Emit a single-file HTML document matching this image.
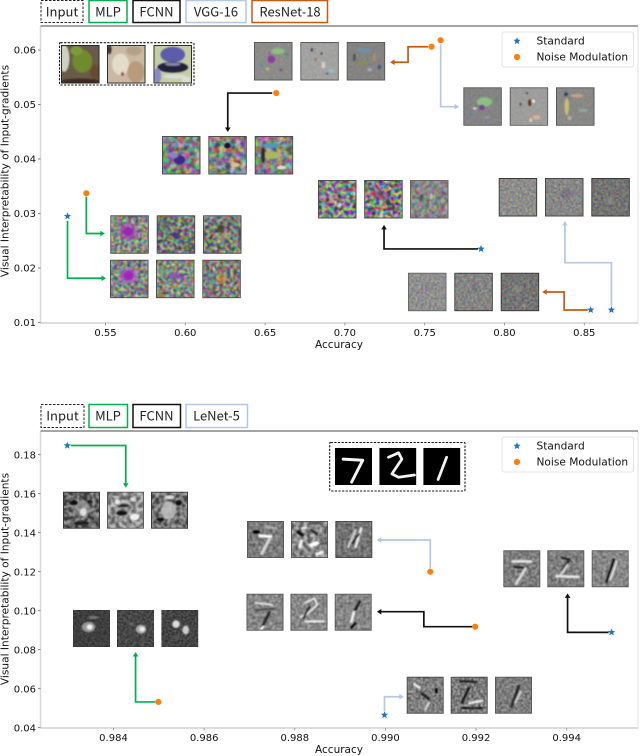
<!DOCTYPE html>
<html lang="en">
<head>
<meta charset="utf-8">
<title>Visual interpretability vs accuracy</title>
<style>
html,body{margin:0;padding:0;background:#fff;width:640px;height:756px;overflow:hidden}
svg{display:block}
#fig{filter:blur(0.3px)}
text{font-family:"DejaVu Sans","Liberation Sans",sans-serif;fill:#111}
.hd{font-family:"Noto Sans CJK SC","Liberation Sans",sans-serif;font-size:13px;font-weight:400;text-anchor:middle;fill:#222}
.lg{font-size:10.6px}
</style>
</head>
<body>
<svg id="fig" xmlns="http://www.w3.org/2000/svg" width="640" height="756" viewBox="0 0 640 756">
<defs id="defs"><filter id="soft" x="-30%" y="-30%" width="160%" height="160%"><feGaussianBlur stdDeviation="2.4"/></filter></defs>
<g id="header-top">
<rect x="41" y="0.5" width="42" height="22" fill="none" stroke="#222" stroke-width="1" stroke-dasharray="2.5 1.5"/>
<text class="hd" x="62" y="16.5">Input</text>
<rect x="89" y="0.5" width="38" height="22" fill="none" stroke="#00b050" stroke-width="1.5"/>
<text class="hd" x="108" y="16.5">MLP</text>
<rect x="133" y="0.5" width="47" height="22" fill="none" stroke="#111" stroke-width="1.5"/>
<text class="hd" x="156.500" y="16.5">FCNN</text>
<rect x="186" y="0.5" width="60" height="22" fill="none" stroke="#b4c7e7" stroke-width="1.5"/>
<text class="hd" x="216" y="16.5">VGG-16</text>
<rect x="252" y="0.5" width="75.500" height="22" fill="none" stroke="#c55a11" stroke-width="1.5"/>
<text class="hd" x="290" y="16.5">ResNet-18</text>
</g>
<g id="header-bottom">
<rect x="41" y="404.500" width="43" height="23" fill="none" stroke="#222" stroke-width="1" stroke-dasharray="2.5 1.5"/>
<text class="hd" x="62.500" y="420.500">Input</text>
<rect x="89" y="404.500" width="38.500" height="23" fill="none" stroke="#00b050" stroke-width="1.500"/>
<text class="hd" x="108" y="420.500">MLP</text>
<rect x="133" y="404.500" width="47.500" height="23" fill="none" stroke="#111" stroke-width="1.500"/>
<text class="hd" x="156.500" y="420.500">FCNN</text>
<rect x="186" y="404.500" width="61.500" height="23" fill="none" stroke="#b4c7e7" stroke-width="1.500"/>
<text class="hd" x="216.500" y="420.500">LeNet-5</text>
</g>
</svg>
<script>
// ---- chart values ----
const topXTicks = [0.55, 0.60, 0.65, 0.70, 0.75, 0.80, 0.85];
const topYTicks = [0.01, 0.02, 0.03, 0.04, 0.05, 0.06];
const topModels = ['MLP', 'FCNN', 'ResNet-18', 'VGG-16'];
const topStandardAccuracy = [0.5262, 0.7853, 0.8540, 0.8670];
const topStandardInterp = [0.0295, 0.0235, 0.0123, 0.0123];
const topNoiseAccuracy = [0.5380, 0.6570, 0.7543, 0.7600];
const topNoiseInterp = [0.0337, 0.0521, 0.0606, 0.0618];

const bottomXTicks = [0.984, 0.986, 0.988, 0.990, 0.992, 0.994];
const bottomYTicks = [0.04, 0.06, 0.08, 0.10, 0.12, 0.14, 0.16, 0.18];
const bottomModels = ['MLP', 'LeNet-5', 'FCNN'];
const bottomStandardAccuracy = [0.98298, 0.98998, 0.99499];
const bottomStandardInterp = [0.1847, 0.0465, 0.0889];
const bottomNoiseAccuracy = [0.98499, 0.99099, 0.99198];
const bottomNoiseInterp = [0.0532, 0.1200, 0.0918];

const NS = 'http://www.w3.org/2000/svg';
const fig = document.getElementById('fig');
const defs = document.getElementById('defs');
const BLUE = '#1f77b4', ORANGE = '#ff7f0e', GREEN = '#00b050', BLACK = '#111', LIGHT = '#b4c7e7', RUST = '#c55a11';

function mk(tag, attrs, parent) {
  const el = document.createElementNS(NS, tag);
  for (const k in attrs) el.setAttribute(k, attrs[k]);
  (parent || fig).appendChild(el);
  return el;
}

function starPoints(cx, cy, r) {
  const pts = [];
  for (let i = 0; i < 10; i++) {
    const a = -Math.PI / 2 + i * Math.PI / 5, q = i % 2 ? r * 0.45 : r;
    pts.push((cx + q * Math.cos(a)).toFixed(2) + ',' + (cy + q * Math.sin(a)).toFixed(2));
  }
  return pts.join(' ');
}

function drawAxes(c) {
  const g = mk('g', {});
  
  
  const spines = [
    [c.l, c.t, c.l, c.b, '#d8d8d8', 1.5], [c.l, c.b, c.r, c.b, '#d0d0d0', 1.5],
    [c.r, c.t, c.r, c.b, '#e6e6e6', 1.2], [c.l, c.t, c.r, c.t, '#6e6e6e', 1.2]
  ];
  spines.forEach(function (s) {
    const ln = mk('line', {x1: s[0], y1: s[1], x2: s[2], y2: s[3], stroke: s[4], 'stroke-width': s[5]}, g);
    
    
  });
  c.xTicks.forEach(function (v) {
    const x = c.sx(v);
    const tk = mk('line', {x1: x, y1: c.b, x2: x, y2: c.b + 2.5, stroke: '#888', 'stroke-width': 0.8}, g);
    
    
    const tx = mk('text', {x: x, y: c.b + 13, 'font-size': 10, 'text-anchor': 'middle'}, g);
    
    
    tx.textContent = v.toFixed(c.xDigits);
  });
  c.yTicks.forEach(function (v) {
    const y = c.sy(v);
    const tk = mk('line', {x1: c.l - 2.5, y1: y, x2: c.l, y2: y, stroke: '#666', 'stroke-width': 0.8}, g);
    
    
    const tx = mk('text', {x: 36, y: y + 3.6, 'font-size': 10, 'text-anchor': 'end'}, g);
    
    
    tx.textContent = v.toFixed(2);
  });
  const xt = mk('text', {x: 339, y: c.b + 25, 'font-size': 10.5, 'text-anchor': 'middle'}, g);
  
  
  xt.textContent = 'Accuracy';
  const yc = c.yTitleCenter;
  const yt = mk('text', {x: 0, y: 0, 'font-size': 10.6, 'text-anchor': 'middle', transform: 'translate(8.5,' + yc + ') rotate(-90)'}, g);
  
  
  yt.textContent = 'Visual Interpretability of Input-gradients';
}

function drawLegend(ty) {
  const g = mk('g', {});
  
  
  const box = mk('rect', {x: 502, y: ty, width: 131.5, height: 35, rx: 2, fill: '#fff', stroke: '#e4e4e4', 'stroke-width': 1}, g);
  
  
  const st = mk('polygon', {points: starPoints(517, ty + 9, 3.8), fill: BLUE}, g);
  
  
  const t1 = mk('text', {x: 536.5, y: ty + 12.5, class: 'lg'}, g);
  
  
  t1.textContent = 'Standard';
  const ci = mk('circle', {cx: 517, cy: ty + 25, r: 3.1, fill: ORANGE}, g);
  
  
  const t2 = mk('text', {x: 536.5, y: ty + 28.5, class: 'lg'}, g);
  
  
  t2.textContent = 'Noise Modulation';
}

// An arrow leaves its marker and bends by the given pixel offsets.
function drawArrow(px, py, route, color) {
  let x = px + route[0][0], y = py + route[0][1];
  const pts = [[x, y]];
  for (let i = 1; i < route.length; i++) {
    x += route[i][0];
    y += route[i][1];
    pts.push([x, y]);
  }
  const last = pts[pts.length - 1], prev = pts[pts.length - 2];
  const dx = Math.sign(last[0] - prev[0]), dy = Math.sign(last[1] - prev[1]);
  const body = pts.slice(0, -1).concat([[last[0] - dx * 3, last[1] - dy * 3]]);
  const pl = mk('polyline', {points: body.map(function (p) { return p.join(','); }).join(' '), fill: 'none', stroke: color, 'stroke-width': 1.7});
  
  
  const h = 4.5, w = 2.8;
  const head = mk('polygon', {fill: color, points: [
    last.join(','),
    (last[0] - dx * h - dy * w) + ',' + (last[1] - dy * h - dx * w),
    (last[0] - dx * h + dy * w) + ',' + (last[1] - dy * h + dx * w)
  ].join(' ')});
  
  
}

function drawSeries(c, stdX, stdY, noiseX, noiseY, models) {
  stdX.forEach(function (v, i) {
    const s = mk('polygon', {points: starPoints(c.sx(v), c.sy(stdY[i]), 3.8), fill: BLUE});
    
    
  });
  noiseX.forEach(function (v, i) {
    const o = mk('circle', {cx: c.sx(v), cy: c.sy(noiseY[i]), r: 3.1, fill: ORANGE});
    
    
  });
}

// ---- thumbnail drawing ----
let seedCounter = 3;
function noiseFilter(freq, k, gray) {
  const id = 'n' + (seedCounter++);
  const f = mk('filter', {id: id, x: 0, y: 0, width: '100%', height: '100%', 'color-interpolation-filters': 'sRGB'}, defs);
  mk('feTurbulence', {type: 'fractalNoise', baseFrequency: freq, numOctaves: 2, seed: seedCounter}, f);
  const o = (0.5 - 0.5 * k).toFixed(3);
  const row = gray
    ? k + ' 0 0 0 ' + o + ' ' + k + ' 0 0 0 ' + o + ' ' + k + ' 0 0 0 ' + o + ' 0 0 0 0 1'
    : k + ' 0 0 0 ' + o + ' 0 ' + k + ' 0 0 ' + o + ' 0 0 ' + k + ' 0 ' + o + ' 0 0 0 0 1';
  mk('feColorMatrix', {type: 'matrix', values: row}, f);
  mk('feGaussianBlur', {stdDeviation: 1.1}, f);
  return id;
}

function drawThumb(x, y, size, sp, name) {
  const t = mk('svg', {x: x, y: y, width: size, height: size, viewBox: '0 0 100 100'});
  
  
  mk('rect', {width: 100, height: 100, fill: sp.bg}, t);
  if (sp.n) {
    const id = noiseFilter(sp.n[0], sp.n[1], sp.gray);
    mk('rect', {width: 100, height: 100, fill: '#fff', filter: 'url(#' + id + ')', opacity: sp.n[2]}, t);
  }
  if (sp.b) {
    const gb = mk('g', {filter: sp.sharp ? '' : 'url(#soft)'}, t);
    sp.b.forEach(function (e) {
      mk('ellipse', {cx: e[0], cy: e[1], rx: e[2], ry: e[3], fill: e[4], opacity: e[5] === undefined ? 1 : e[5]}, gb);
    });
  }
  if (sp.s) {
    const gs = mk('g', {filter: sp.crisp ? '' : 'url(#soft)'}, t);
    sp.s.forEach(function (e) {
      mk('polyline', {points: e[0], fill: 'none', stroke: e[1], 'stroke-width': e[2], 'stroke-linecap': 'round', 'stroke-linejoin': 'round'}, gs);
    });
  }
  if (sp.edge !== 'none') {
    mk('rect', {x: 1.2, y: 1.2, width: 97.6, height: 97.6, fill: 'none', stroke: sp.edge || '#4c4c4c', 'stroke-width': 2.4}, t);
  }
}

function dashedBox(x, y, w, h, name) {
  const r = mk('rect', {x: x, y: y, width: w, height: h, rx: 1, fill: 'none', stroke: '#111', 'stroke-width': 1.1, 'stroke-dasharray': '2.2 1.4'});
  
  
}

// ---- top chart ----
const topChart = {
  name: 'cifar-chart', l: 40.5, r: 638, t: 26, b: 323, xDigits: 2, yTitleCenter: 171,
  xTicks: topXTicks, yTicks: topYTicks,
  sx: function (v) { return 105.5 + (v - 0.55) * 1596; },
  sy: function (v) { return 322.5 - (v - 0.01) * 5450; }
};
const bottomChart = {
  name: 'mnist-chart', l: 40.5, r: 638, t: 431, b: 728, xDigits: 3, yTitleCenter: 579,
  xTicks: bottomXTicks, yTicks: bottomYTicks,
  sx: function (v) { return 113.5 + (v - 0.984) * 45320; },
  sy: function (v) { return 727.7 - (v - 0.04) * 1950; }
};
drawAxes(topChart);
drawAxes(bottomChart);
drawLegend(32);
drawLegend(437);

const d7 = '22,30 75,33 45,92', d2 = '25,25 52,13 61,30 34,70 52,79 95,73', d1 = '63,25 40,85';

const mlpN = [0.11, 2.4, 0.55], fcnN = [0.07, 2.6, 0.5], fcnS = [0.1, 2.8, 0.7], resN = [0.16, 1.4, 0.12], fineN = [0.2, 2, 0.38], grayN = [0.09, 2.6, 0.4], grayFine = [0.13, 1.8, 0.3];

const thumbRows = [
  {name: 'input-cifar', x: [61, 107, 153.5], y: 45, size: 38.5, imgs: [
    {bg: '#6a5a4a', b: [[8, 35, 14, 35, '#cfd0c0'], [55, 42, 26, 30, '#6f8a2e'], [40, 15, 16, 12, '#7d9a3a'], [50, 94, 50, 7, '#3b2a20'], [88, 70, 12, 20, '#6b4a30']], edge: '#222'},
    {bg: '#c9b9a2', b: [[35, 50, 22, 28, '#e2dcc8'], [75, 70, 22, 28, '#b89a7c'], [70, 15, 20, 12, '#b5a088'], [6, 12, 6, 12, '#433'], [40, 75, 4, 5, '#9a4a40']], edge: '#222'},
    {bg: '#c5cea2', b: [[50, 25, 32, 20, '#5c5caa'], [50, 58, 40, 14, '#23233c'], [10, 80, 10, 20, '#8a8ac8'], [55, 82, 30, 5, '#dcdcdc'], [50, 50, 20, 4, '#8888aa'], [85, 90, 12, 8, '#ddd']], edge: '#222'}
  ]},
  {name: 'fcnn-noise', x: [162, 208.3, 254.7], y: 136, size: 38.5, imgs: [
    {bg: '#8a8886', n: fcnN, b: [[45, 62, 15, 13, '#3d2a88'], [30, 50, 12, 8, '#8a84c0'], [75, 35, 9, 6, '#4ea880'], [70, 15, 10, 5, '#6a6a6a']]},
    {bg: '#888', n: fcnN, b: [[50, 25, 8, 8, '#1a1020'], [55, 38, 10, 4, '#c8524a'], [70, 75, 12, 6, '#e0c090'], [30, 70, 7, 7, '#7a5a90']]},
    {bg: '#8c8c84', n: fcnN, b: [[40, 25, 20, 7, '#4f9ab8'], [45, 50, 22, 10, '#a8b860'], [22, 50, 5, 20, '#2a2a30'], [70, 82, 12, 5, '#ddd']]}
  ]},
  {name: 'resnet-noise', x: [254, 300.3, 346.7], y: 42, size: 38.5, imgs: [
    {bg: '#8e8e8c', n: resN, b: [[62, 24, 17, 8, '#8cc080'], [45, 45, 10, 10, '#8a3f9a'], [85, 32, 5, 3, '#3a9a80'], [35, 70, 5, 3, '#c8c060'], [20, 62, 4, 3, '#5a8aa8'], [70, 72, 4, 3, '#7a4a88'], [40, 30, 3, 5, '#a05aa0']], edge: '#555'},
    {bg: '#a8a8a6', n: resN, b: [[30, 20, 3, 5, '#444'], [60, 60, 5, 9, '#d8cfc0'], [80, 75, 8, 5, '#90c0c0'], [40, 45, 3, 4, '#a0705a'], [70, 82, 4, 3, '#66a'], [25, 35, 3, 3, '#8aa'], [55, 30, 3, 3, '#444']], edge: '#555'},
    {bg: '#848482', n: resN, b: [[45, 22, 18, 6, '#7090a8'], [40, 55, 16, 5, '#8a8a50'], [72, 40, 4, 12, '#b08a70'], [85, 65, 4, 6, '#40508a'], [20, 40, 4, 10, '#555'], [60, 72, 6, 4, '#aab']], edge: '#555'}
  ]},
  {name: 'vgg-noise', x: [463.3, 509.7, 556], y: 87.3, size: 38.5, imgs: [
    {bg: '#858583', n: resN, b: [[55, 38, 20, 12, '#8cc080'], [48, 52, 8, 7, '#7c3f98'], [85, 32, 5, 3, '#3a9a80'], [30, 55, 5, 3, '#e8d8c8'], [62, 78, 8, 3, '#9a90b8'], [18, 70, 4, 4, '#58a']], edge: '#555'},
    {bg: '#a2a2a0', n: resN, b: [[52, 40, 4, 9, '#6a2a10'], [62, 36, 4, 4, '#f0f0f0'], [70, 78, 10, 6, '#d8b090'], [28, 44, 3, 4, '#555'], [45, 15, 3, 3, '#555'], [55, 85, 4, 5, '#e8c8b0']], edge: '#555'},
    {bg: '#8a8a88', n: resN, b: [[28, 50, 6, 22, '#c8c070'], [55, 22, 16, 5, '#c8a080'], [70, 60, 12, 4, '#90a8a0'], [26, 18, 5, 5, '#30405a'], [35, 80, 5, 5, '#c8a8a0']], edge: '#555'}
  ]},
  {name: 'mlp-noise', x: [110.3, 156.7, 203], y: 215.3, size: 38.5, imgs: [
    {bg: '#8d9c84', n: mlpN, b: [[47, 42, 26, 24, '#b040c0', 0.5], [46, 42, 13, 12, '#9a20b8', 0.95]]},
    {bg: '#6c7868', n: mlpN, b: [[50, 52, 11, 8, '#41307a', 0.8], [20, 20, 14, 14, '#445', 0.35], [82, 78, 14, 14, '#453', 0.3]]},
    {bg: '#6e7a6e', n: mlpN, b: [[45, 35, 10, 10, '#4a3a10', 0.8], [50, 55, 26, 7, '#a8a868', 0.55]]}
  ]},
  {name: 'mlp-standard', x: [110, 156, 202.3], y: 259.7, size: 38.5, imgs: [
    {bg: '#84948a', n: mlpN, b: [[48, 42, 24, 22, '#b850c8', 0.55], [48, 42, 14, 12, '#a020c0', 0.95]]},
    {bg: '#8a9c7e', n: mlpN, b: [[50, 42, 20, 9, '#8a40b8', 0.7], [22, 32, 14, 10, '#6ab080', 0.5], [10, 94, 18, 5, '#a87020', 0.6]]},
    {bg: '#827e74', n: mlpN, b: [[50, 50, 13, 13, '#d09020', 0.55], [52, 22, 14, 8, '#a06a4a', 0.4], [20, 50, 14, 22, '#5a8898', 0.4]]}
  ]},
  {name: 'fcnn-standard', x: [318, 364.2, 410], y: 180, size: 38.5, imgs: [
    {bg: '#8c8c88', n: fcnS, b: [[35, 50, 7, 12, '#c07ab0', 0.6], [70, 40, 9, 6, '#4aa0a0', 0.6]]},
    {bg: '#7e7c7a', n: fcnS, b: [[45, 40, 20, 14, '#8a3a80', 0.5], [50, 70, 12, 4, '#e0b050', 0.7], [62, 58, 7, 7, '#1a1a30', 0.7]]},
    {bg: '#8c8c8a', n: [0.1, 2.2, 0.4], b: [[30, 45, 5, 9, '#222', 0.5], [55, 42, 4, 9, '#d8d8c0', 0.7], [70, 55, 5, 10, '#4a6a8a', 0.5], [25, 60, 5, 4, '#6aa', 0.5]], edge: '#666'}
  ]},
  {name: 'vgg-standard', x: [498.7, 545, 591.3], y: 178, size: 38.5, imgs: [
    {bg: '#969694', n: fineN, edge: '#333'},
    {bg: '#8c8c8a', n: fineN, b: [[55, 42, 14, 12, '#6a5a78', 0.4]], edge: '#444'},
    {bg: '#6c6c6a', n: fineN, b: [[48, 60, 7, 9, '#bbb', 0.3]], edge: '#333'}
  ]},
  {name: 'resnet-standard', x: [408, 454.3, 500.7], y: 272.7, size: 38.5, imgs: [
    {bg: '#9a9a98', n: fineN, b: [[50, 40, 8, 10, '#7a6a8a', 0.35]], edge: '#666'},
    {bg: '#8a8a88', n: fineN, b: [[52, 38, 7, 12, '#5a5a70', 0.4]], edge: '#333'},
    {bg: '#6e6e6c', n: fineN, b: [[42, 42, 12, 10, '#9a9a80', 0.45], [60, 85, 5, 4, '#bbb', 0.5]], edge: '#333'}
  ]},
  {name: 'input-mnist', x: [335, 379.3, 423.3], y: 448, size: 37, imgs: [
    {bg: '#000', s: [[d7, '#f4f4f4', 8]], crisp: true, edge: 'none'},
    {bg: '#000', s: [[d2, '#f4f4f4', 7.5]], crisp: true, edge: 'none'},
    {bg: '#000', s: [[d1, '#f4f4f4', 7.5]], crisp: true, edge: 'none'}
  ]},
  {name: 'mlp-standard-mnist', x: [63, 107, 151], y: 491.7, size: 37, imgs: [
    {bg: '#565656', gray: true, n: grayN, b: [[50, 45, 24, 22, '#a0a0a0', 0.6], [30, 30, 11, 7, '#111'], [55, 55, 9, 11, '#e0e0e0'], [50, 85, 22, 5, '#1a1a1a'], [72, 28, 8, 5, '#1a1a1a']], edge: '#333'},
    {bg: '#9c9c9c', gray: true, n: grayN, b: [[40, 58, 15, 6, '#0a0a0a'], [45, 38, 13, 4, '#222'], [75, 68, 13, 9, '#f0f0f0'], [28, 28, 7, 7, '#e8e8e8'], [70, 20, 8, 5, '#ddd']], edge: '#555'},
    {bg: '#686868', gray: true, n: grayN, b: [[48, 50, 20, 24, '#c8c8c8', 0.8], [75, 30, 9, 7, '#111'], [25, 75, 11, 5, '#111'], [50, 15, 13, 5, '#ddd']], edge: '#333'}
  ]},
  {name: 'lenet-noise-mnist', x: [247, 291, 335.3], y: 521, size: 37, imgs: [
    {bg: '#7a7a7a', gray: true, n: grayFine, s: [['20,30 30,30', '#000', 9], ['35,40 65,42', '#fff', 8], ['60,50 40,88', '#d8d8d8', 8], ['50,15 80,20', '#b0b0b0', 6]], edge: '#555'},
    {bg: '#8c8c8c', gray: true, n: grayN, s: [['20,30 30,38', '#111', 9], ['28,55 24,70', '#f4f4f4', 9], ['55,65 70,60', '#fff', 11], ['70,90 85,85', '#f4f4f4', 8], ['55,25 70,35', '#222', 6], ['30,20 40,18', '#e8e8e8', 7]], edge: '#555'},
    {bg: '#6e6e6e', gray: true, n: grayFine, s: [['55,25 35,70', '#ccc', 7], ['70,20 55,70', '#f0f0f0', 7], ['65,35 45,60', '#111', 5]], edge: '#444'}
  ]},
  {name: 'fcnn-noise-mnist', x: [246.5, 290.5, 334.7], y: 593.7, size: 37, imgs: [
    {bg: '#8a8a8a', gray: true, n: grayFine, s: [['25,25 70,30', '#e4e4e4', 5], ['25,45 75,40', '#4a4a4a', 5], ['62,50 45,85', '#222', 7], ['45,90 40,96', '#fff', 6]], edge: '#555'},
    {bg: '#8c8c8c', gray: true, n: grayFine, s: [['40,25 65,12 72,30 45,55 28,62', '#e8e8e8', 5], ['52,35 35,65', '#111', 5], ['40,75 90,75', '#eee', 6]], edge: '#555'},
    {bg: '#8a8a8a', gray: true, n: grayFine, s: [['68,20 55,45', '#111', 6], ['52,50 45,75', '#f4f4f4', 7], ['55,80 45,92', '#000', 6]], edge: '#555'}
  ]},
  {name: 'mlp-noise-mnist', x: [73, 117, 161.3], y: 610, size: 37, imgs: [
    {bg: '#2c2c2c', gray: true, n: [0.22, 2, 0.22], b: [[42, 46, 18, 14, '#999'], [45, 46, 8, 7, '#f0f0f0'], [55, 20, 14, 4, '#777']], edge: 'none'},
    {bg: '#2e2e2e', gray: true, n: [0.22, 2, 0.3], b: [[65, 52, 14, 12, '#aaa'], [68, 52, 7, 6, '#f0f0f0'], [40, 38, 6, 5, '#666']], edge: 'none'},
    {bg: '#2a2a2a', gray: true, n: [0.22, 2, 0.3], b: [[40, 38, 10, 10, '#ddd'], [66, 54, 9, 12, '#ccc'], [40, 75, 10, 5, '#555']], edge: 'none'}
  ]},
  {name: 'fcnn-standard-mnist', x: [503.3, 547.3, 591.7], y: 550.3, size: 37, imgs: [
    {bg: '#7c7c7c', gray: true, n: grayFine, s: [['25,30 75,30', '#e8e8e8', 7], ['30,45 65,48', '#222', 6], ['60,50 35,90', '#d8d8d8', 8]], edge: '#555'},
    {bg: '#7e7e7e', gray: true, n: grayFine, s: [['40,20 60,25 40,55', '#222', 6], ['25,70 85,72', '#e8e8e8', 7], ['55,40 35,68', '#d8d8d8', 6]], edge: '#555'},
    {bg: '#8c8c8c', gray: true, n: grayFine, s: [['60,25 40,85', '#111', 6], ['68,30 50,80', '#e8e8e8', 5]], edge: '#555'}
  ]},
  {name: 'lenet-standard-mnist', x: [406.7, 450.7, 495], y: 676.7, size: 37, imgs: [
    {bg: '#7f7f7f', gray: true, n: [0.16, 2, 0.4], s: [['20,20 35,30', '#f4f4f4', 6], ['40,45 60,60', '#111', 6], ['80,35 80,42', '#000', 7], ['60,70 50,90', '#d8d8d8', 6]], edge: '#444'},
    {bg: '#7a7a7a', gray: true, n: [0.16, 2, 0.4], s: [['25,12 70,14', '#111', 5], ['50,30 30,70', '#111', 6], ['50,72 85,65', '#f4f4f4', 6], ['30,85 85,85', '#000', 4]], edge: '#444'},
    {bg: '#7c7c7c', gray: true, n: [0.16, 2, 0.32], s: [['65,25 45,80', '#222', 7], ['70,40 55,70', '#d8d8d8', 5]], edge: '#555'}
  ]}
];

thumbRows.forEach(function (row) {
  row.x.forEach(function (x, i) {
    drawThumb(x, row.y, row.size, row.imgs[i], row.name + '-thumbnail-' + (i + 1));
  });
});
dashedBox(59.5, 42.7, 134.5, 42.3, 'input-images-frame');
dashedBox(329.7, 442.5, 135.3, 48.5, 'input-digits-frame');

// Connector routes: first pair is the offset from the marker, the rest are segment steps.
const sx = topChart.sx, sy = topChart.sy, bx = bottomChart.sx, by = bottomChart.sy;
drawArrow(sx(topStandardAccuracy[0]), sy(topStandardInterp[0]), [[0, 4.5], [0, 57.5], [38.5, 0]], GREEN);
drawArrow(sx(topNoiseAccuracy[0]), sy(topNoiseInterp[0]), [[0, 3.5], [0, 36.7], [18.5, 0]], GREEN);
drawArrow(sx(topNoiseAccuracy[1]), sy(topNoiseInterp[1]), [[-4, 0], [-44.5, 0], [0, 39]], BLACK);
drawArrow(sx(topNoiseAccuracy[2]), sy(topNoiseInterp[2]), [[-3.5, 0], [-20, 0], [0, 15.5], [-18, 0]], RUST);
drawArrow(sx(topNoiseAccuracy[3]), sy(topNoiseInterp[3]), [[0, 4], [0, 62.5], [18.5, 0]], LIGHT);
drawArrow(sx(topStandardAccuracy[1]), sy(topStandardInterp[1]), [[-3, 0], [-94, 0], [0, -24]], BLACK);
drawArrow(sx(topStandardAccuracy[2]), sy(topStandardInterp[2]), [[-3, 0], [-23.5, 0], [0, -18], [-22, 0]], RUST);
drawArrow(sx(topStandardAccuracy[3]), sy(topStandardInterp[3]), [[0, -3.5], [0, -43.8], [-46.5, 0], [0, -41.7]], LIGHT);

drawArrow(bx(bottomStandardAccuracy[0]), by(bottomStandardInterp[0]), [[3.5, 0], [55, 0], [0, 42.2]], GREEN);
drawArrow(bx(bottomNoiseAccuracy[0]), by(bottomNoiseInterp[0]), [[-3, 0], [-19.8, 0], [0, -50]], GREEN);
drawArrow(bx(bottomStandardAccuracy[1]), by(bottomStandardInterp[1]), [[0, -4], [0, -14.3], [19.3, 0]], LIGHT);
drawArrow(bx(bottomNoiseAccuracy[1]), by(bottomNoiseInterp[1]), [[0, -3.5], [0, -28.2], [-53.6, 0]], LIGHT);
drawArrow(bx(bottomNoiseAccuracy[2]), by(bottomNoiseInterp[2]), [[-3, 0], [-48.3, 0], [0, -15], [-47, 0]], BLACK);
drawArrow(bx(bottomStandardAccuracy[2]), by(bottomStandardInterp[2]), [[-3, 0], [-41, 0], [0, -39]], BLACK);

drawSeries(topChart, topStandardAccuracy, topStandardInterp, topNoiseAccuracy, topNoiseInterp, topModels);
drawSeries(bottomChart, bottomStandardAccuracy, bottomStandardInterp, bottomNoiseAccuracy, bottomNoiseInterp, bottomModels);
</script>
</body>
</html>
